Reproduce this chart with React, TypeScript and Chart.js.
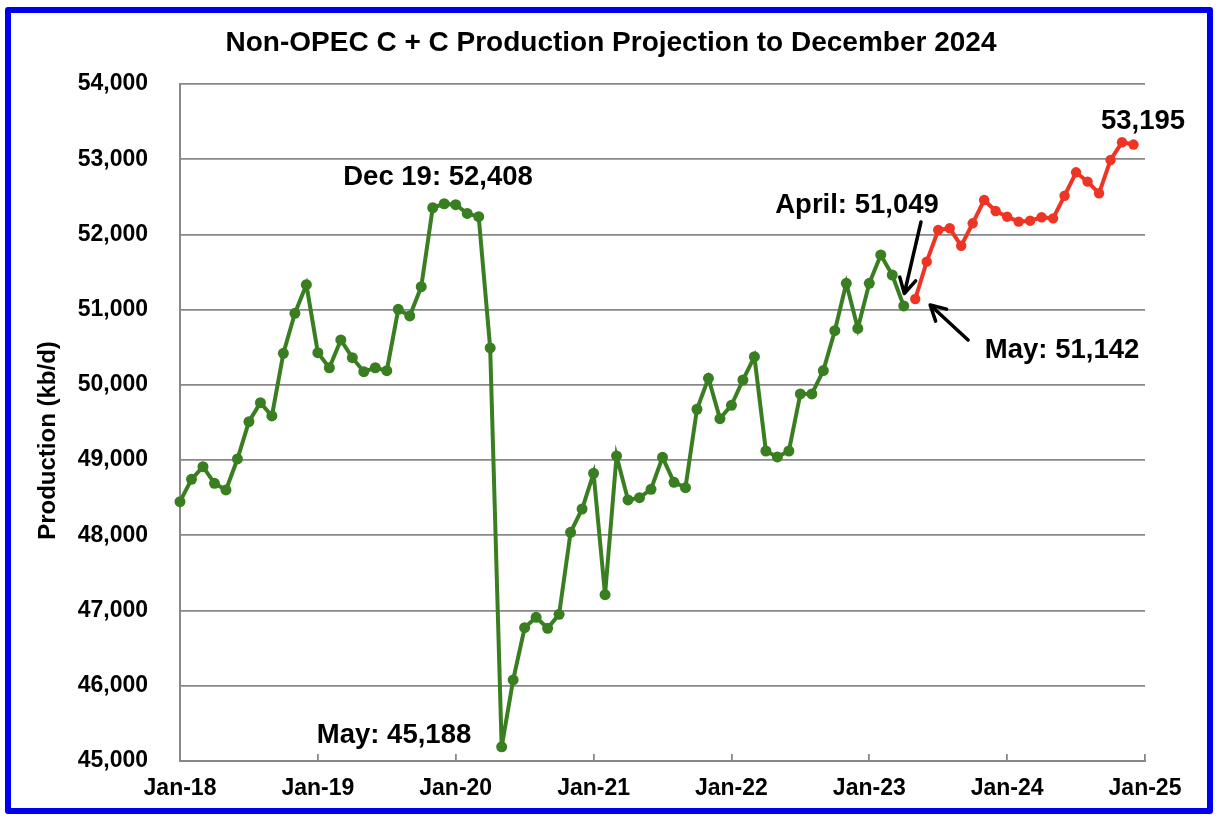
import React, { useEffect, useRef } from "react";
import { Chart, registerables } from "chart.js";

Chart.register(...registerables);

const FONT = "'Liberation Sans', Arial, Helvetica, sans-serif";

const xTickLabels = ["Jan-18", "Jan-19", "Jan-20", "Jan-21", "Jan-22", "Jan-23", "Jan-24", "Jan-25"];

// Monthly Non-OPEC C+C production, Jan-18 .. Apr-23 (kb/d)
const actualProduction = [
  48447, 48745, 48913, 48692, 48603, 49015, 49511, 49763, 49587, 50420, 50952, 51332,
  50428, 50228, 50597, 50362, 50176, 50228, 50189, 51005, 50916, 51305, 52355, 52408,
  52395, 52280, 52236, 50491, 45188, 46077, 46772, 46910, 46764, 46950, 48040, 48350,
  48825, 47211, 49055, 48470, 48500, 48612, 49037, 48705, 48634, 49676, 50088, 49551,
  49729, 50065, 50375, 49121, 49042, 49121, 49880, 49880, 50190, 50720, 51350, 50750,
  51350, 51727, 51461, 51049,
];

// Projection, May-23 .. Dec-24 (kb/d)
const projectedProduction = [
  51142, 51638, 52059, 52082, 51850, 52148, 52458, 52311,
  52236, 52170, 52183, 52228, 52214, 52515, 52826, 52702, 52547, 52990, 53225, 53195,
];

const annotationTexts = ["Dec 19: 52,408", "May: 45,188", "April: 51,049", "May: 51,142", "53,195"];
// anchor of each text in data units (month index, kb/d)
const annotationMonths = [22.46, 18.63, 58.93, 76.78, 83.83];
const annotationValues = [52764, 45346, 52392, 50464, 53508];

// arrows: [tailMonth, tailValue, headMonth, headValue]
const arrowSegments = [
  [64.5, 52166, 63.05, 51215],
  [68.6, 50597, 65.3, 51062],
];

const GREEN = "#3a7e22";
const RED = "#ee3424";
const GRID = "#888888";

const overlayPlugin = {
  id: "overlay",
  afterDatasetsDraw(chart: any) {
    const { ctx } = chart;
    const x = chart.scales.x;
    const y = chart.scales.y;
    ctx.save();
    ctx.fillStyle = "#000";
    ctx.font = `bold 27.5px ${FONT}`;
    ctx.textAlign = "center";
    ctx.textBaseline = "middle";
    annotationTexts.forEach((t, i) => {
      ctx.fillText(t, x.getPixelForValue(annotationMonths[i]), y.getPixelForValue(annotationValues[i]));
    });

    ctx.strokeStyle = "#000";
    ctx.lineWidth = 3.5;
    ctx.lineCap = "round";
    ctx.lineJoin = "round";
    arrowSegments.forEach(([tm, tv, hm, hv]) => {
      const x1 = x.getPixelForValue(tm);
      const y1 = y.getPixelForValue(tv);
      const x2 = x.getPixelForValue(hm);
      const y2 = y.getPixelForValue(hv);
      const ang = Math.atan2(y2 - y1, x2 - x1);
      const hl = 17;
      ctx.beginPath();
      ctx.moveTo(x1, y1);
      ctx.lineTo(x2, y2);
      ctx.moveTo(x2 - hl * Math.cos(ang - 0.5), y2 - hl * Math.sin(ang - 0.5));
      ctx.lineTo(x2, y2);
      ctx.lineTo(x2 - hl * Math.cos(ang + 0.5), y2 - hl * Math.sin(ang + 0.5));
      ctx.stroke();
    });

    // y-axis title
    ctx.font = `bold 24px ${FONT}`;
    ctx.translate(48, (chart.chartArea.top + chart.chartArea.bottom) / 2 + 18);
    ctx.rotate(-Math.PI / 2);
    ctx.fillText("Production (kb/d)", 0, 0);
    ctx.restore();
  },
};

export default function App() {
  const canvasRef = useRef<HTMLCanvasElement | null>(null);

  useEffect(() => {
    if (!canvasRef.current) return;
    Chart.defaults.font.family = FONT;
    const chart = new Chart(canvasRef.current, {
      type: "line",
      data: {
        datasets: [
          {
            label: "Actual",
            data: actualProduction.map((v, i) => ({ x: i, y: v })),
            borderColor: GREEN,
            backgroundColor: GREEN,
            pointBackgroundColor: GREEN,
            pointBorderColor: GREEN,
            borderWidth: 4,
            pointRadius: 5.5,
            pointBorderWidth: 0,
            tension: 0,
            clip: false,
          },
          {
            label: "Projection",
            data: projectedProduction.map((v, i) => ({ x: actualProduction.length + i, y: v })),
            borderColor: RED,
            backgroundColor: RED,
            pointBackgroundColor: RED,
            pointBorderColor: RED,
            borderWidth: 4,
            pointRadius: 5.2,
            pointBorderWidth: 0,
            tension: 0,
            clip: false,
          },
        ],
      },
      options: {
        responsive: false,
        animation: false,
        layout: { padding: 0 },
        plugins: {
          legend: { display: false },
          tooltip: { enabled: false },
          title: {
            display: true,
            text: "Non-OPEC C + C Production Projection to December 2024",
            color: "#000",
            font: { size: 28, weight: "bold", family: FONT },
            padding: { top: 26.2, bottom: 24.2 },
          },
        },
        scales: {
          x: {
            type: "linear",
            min: 0,
            max: 84,
            afterFit: (s: any) => {
              s.height = 63;
            },
            afterBuildTicks: (s: any) => {
              s.ticks = xTickLabels.map((_, i) => ({ value: i * 12 }));
            },
            ticks: {
              autoSkip: false,
              maxRotation: 0,
              padding: 21,
              color: "#000",
              font: { size: 23, weight: "bold", family: FONT },
              callback: (v: any) => xTickLabels[Math.round(Number(v) / 12)] ?? "",
            },
            grid: {
              drawOnChartArea: false,
              drawTicks: true,
              tickLength: -7,
              color: GRID,
              lineWidth: 1.8,
            },
            border: { display: true, color: GRID, width: 2 },
          },
          y: {
            type: "linear",
            position: "left",
            min: 45000,
            max: 54000,
            afterFit: (s: any) => {
              s.width = 180;
            },
            ticks: {
              stepSize: 1000,
              padding: 32,
              color: "#000",
              font: { size: 23, weight: "bold", family: FONT },
              callback: (v: any) => Number(v).toLocaleString("en-US"),
            },
            grid: { color: GRID, lineWidth: 1.8, drawTicks: false },
            border: { display: true, color: GRID, width: 2 },
          },
          spacer: {
            type: "linear",
            position: "right",
            display: true,
            afterFit: (s: any) => {
              s.width = 77;
            },
            ticks: { display: false },
            grid: { display: false, drawTicks: false },
            border: { display: false },
          },
        },
      } as any,
      plugins: [overlayPlugin],
    });
    return () => chart.destroy();
  }, []);

  return (
    <div style={{ position: "absolute", left: 0, top: 0, width: 1222, height: 824, background: "#fff" }}>
      <canvas ref={canvasRef} width={1222} height={824} style={{ display: "block", width: 1222, height: 824 }} />
      <div
        style={{
          position: "absolute",
          left: 5,
          top: 7,
          width: 1208,
          height: 807,
          boxSizing: "border-box",
          border: "6px solid #0000f0",
          borderRadius: 3,
          pointerEvents: "none",
        }}
      />
    </div>
  );
}
